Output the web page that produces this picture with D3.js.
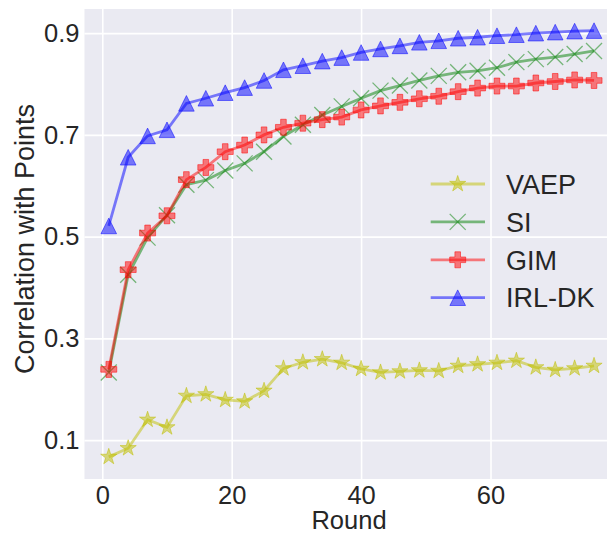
<!DOCTYPE html>
<html>
<head>
<meta charset="utf-8">
<script src="https://cdn.jsdelivr.net/npm/d3@7"></script>
<style>
  body { margin: 0; background: #fff; }
  svg { display: block; font-family: "Liberation Sans", Arial, sans-serif; }
</style>
</head>
<body>
<svg id="chart" width="607" height="534"></svg>
<script>
const rounds = [1, 4, 7, 10, 13, 16, 19, 22, 25, 28, 31, 34, 37, 40, 43, 46, 49, 52, 55, 58, 61, 64, 67, 70, 73, 76];
const vaep = [0.067, 0.084, 0.140, 0.125, 0.187, 0.190, 0.179, 0.176, 0.197, 0.241, 0.253, 0.259, 0.252, 0.240, 0.233, 0.235, 0.237, 0.236, 0.246, 0.249, 0.252, 0.256, 0.243, 0.238, 0.241, 0.246];
const si = [0.233, 0.425, 0.498, 0.542, 0.602, 0.611, 0.630, 0.644, 0.667, 0.697, 0.720, 0.739, 0.756, 0.772, 0.787, 0.797, 0.807, 0.816, 0.823, 0.826, 0.832, 0.843, 0.849, 0.853, 0.859, 0.865];
const gim = [0.239, 0.435, 0.507, 0.541, 0.612, 0.636, 0.667, 0.680, 0.700, 0.715, 0.723, 0.730, 0.735, 0.749, 0.757, 0.764, 0.771, 0.776, 0.785, 0.792, 0.796, 0.796, 0.802, 0.805, 0.808, 0.807];
const irlDk = [0.521, 0.656, 0.698, 0.710, 0.762, 0.772, 0.783, 0.793, 0.807, 0.828, 0.836, 0.845, 0.852, 0.862, 0.869, 0.875, 0.882, 0.885, 0.890, 0.892, 0.895, 0.897, 0.900, 0.902, 0.904, 0.905];

const seriesNames = ["VAEP", "SI", "GIM", "IRL-DK"];
const seriesColors = ["#bfbf00", "#008000", "#ff0000", "#0000ff"];
const seriesMarkers = ["star", "x", "plus", "triangle"];
const seriesValues = [vaep, si, gim, irlDk];

const xTicks = [0, 20, 40, 60];
const yTicks = [0.1, 0.3, 0.5, 0.7, 0.9];

const plotLeft = 84.5, plotTop = 9, plotBottom = 479, plotRight = 618.3;

const svg = d3.select("#chart");

const x = d3.scaleLinear().domain([-2.75, 79.75]).range([plotLeft, plotRight]);
const y = d3.scaleLinear().domain([0.0235, 0.9475]).range([plotBottom, plotTop]);

svg.append("rect")
    .attr("x", plotLeft).attr("y", plotTop)
    .attr("width", plotRight - plotLeft).attr("height", plotBottom - plotTop)
    .attr("fill", "#eaeaf2");

// x axis + vertical grid
const xAxis = svg.append("g")
    .attr("transform", `translate(0,${plotBottom})`)
    .call(d3.axisBottom(x).tickValues(xTicks).tickSize(-(plotBottom - plotTop)).tickPadding(7).tickFormat(d3.format("d")));
// y axis + horizontal grid
const yAxis = svg.append("g")
    .attr("transform", `translate(${plotLeft},0)`)
    .call(d3.axisLeft(y).tickValues(yTicks).tickSize(-(plotRight - plotLeft)).tickPadding(5).tickFormat(d3.format(".1f")));

[xAxis, yAxis].forEach(a => {
    a.select(".domain").remove();
    a.selectAll(".tick line").attr("stroke", "#fff").attr("stroke-width", 1.6);
    a.selectAll(".tick text").attr("fill", "#262626").style("font-size", "25.5px");
});

svg.append("text")
    .attr("x", 349).attr("y", 528.5)
    .attr("text-anchor", "middle")
    .attr("fill", "#262626").style("font-size", "25.5px")
    .text("Round");

svg.append("text")
    .attr("transform", "translate(34,239) rotate(-90)")
    .attr("text-anchor", "middle")
    .attr("fill", "#262626").style("font-size", "27px")
    .text("Correlation with Points");

function markerPath(kind) {
    if (kind === "triangle") return "M0,-7.8L7.8,7.8L-7.8,7.8Z";
    if (kind === "plus") {
        const a = 8, b = 2.8;
        return `M${-b},${-a}H${b}V${-b}H${a}V${b}H${b}V${a}H${-b}V${b}H${-a}V${-b}H${-b}Z`;
    }
    if (kind === "x") return "M-8,-8L8,8M-8,8L8,-8";
    // star
    const R = 8.5, r = R * 0.381966;
    let p = "";
    for (let i = 0; i < 10; i++) {
        const rad = i % 2 === 0 ? R : r;
        const ang = -Math.PI / 2 + i * Math.PI / 5;
        p += (i === 0 ? "M" : "L") + (rad * Math.cos(ang)).toFixed(2) + "," + (rad * Math.sin(ang)).toFixed(2);
    }
    return p + "Z";
}

function drawMarker(g, kind, color, cx, cy) {
    const m = g.append("path")
        .attr("d", markerPath(kind))
        .attr("transform", `translate(${cx},${cy})`)
        .attr("stroke", color)
        .attr("stroke-opacity", 0.5);
    if (kind === "x") {
        m.attr("fill", "none").attr("stroke-width", 1.3);
    } else {
        m.attr("fill", color).attr("fill-opacity", 0.5).attr("stroke-width", 1);
    }
}

const line = d3.line()
    .x((d, i) => x(rounds[i]))
    .y(d => y(d));

const plot = svg.append("g");
seriesValues.forEach((vals, s) => {
    const g = plot.append("g");
    g.append("path")
        .datum(vals)
        .attr("d", line)
        .attr("fill", "none")
        .attr("stroke", seriesColors[s])
        .attr("stroke-opacity", 0.5)
        .attr("stroke-width", 2.8);
    vals.forEach((v, i) => drawMarker(g, seriesMarkers[s], seriesColors[s], x(rounds[i]), y(v)));
});

// legend
const legend = svg.append("g");
seriesNames.forEach((name, s) => {
    const ly = 184 + s * 37.9;
    legend.append("line")
        .attr("x1", 430.7).attr("x2", 485)
        .attr("y1", ly).attr("y2", ly)
        .attr("stroke", seriesColors[s])
        .attr("stroke-opacity", 0.5)
        .attr("stroke-width", 2.8);
    drawMarker(legend, seriesMarkers[s], seriesColors[s], 457.7, ly);
    legend.append("text")
        .attr("x", 506).attr("y", ly)
        .attr("dy", "0.36em")
        .attr("fill", "#262626").style("font-size", "27px")
        .text(name);
});
</script>
</body>
</html>
